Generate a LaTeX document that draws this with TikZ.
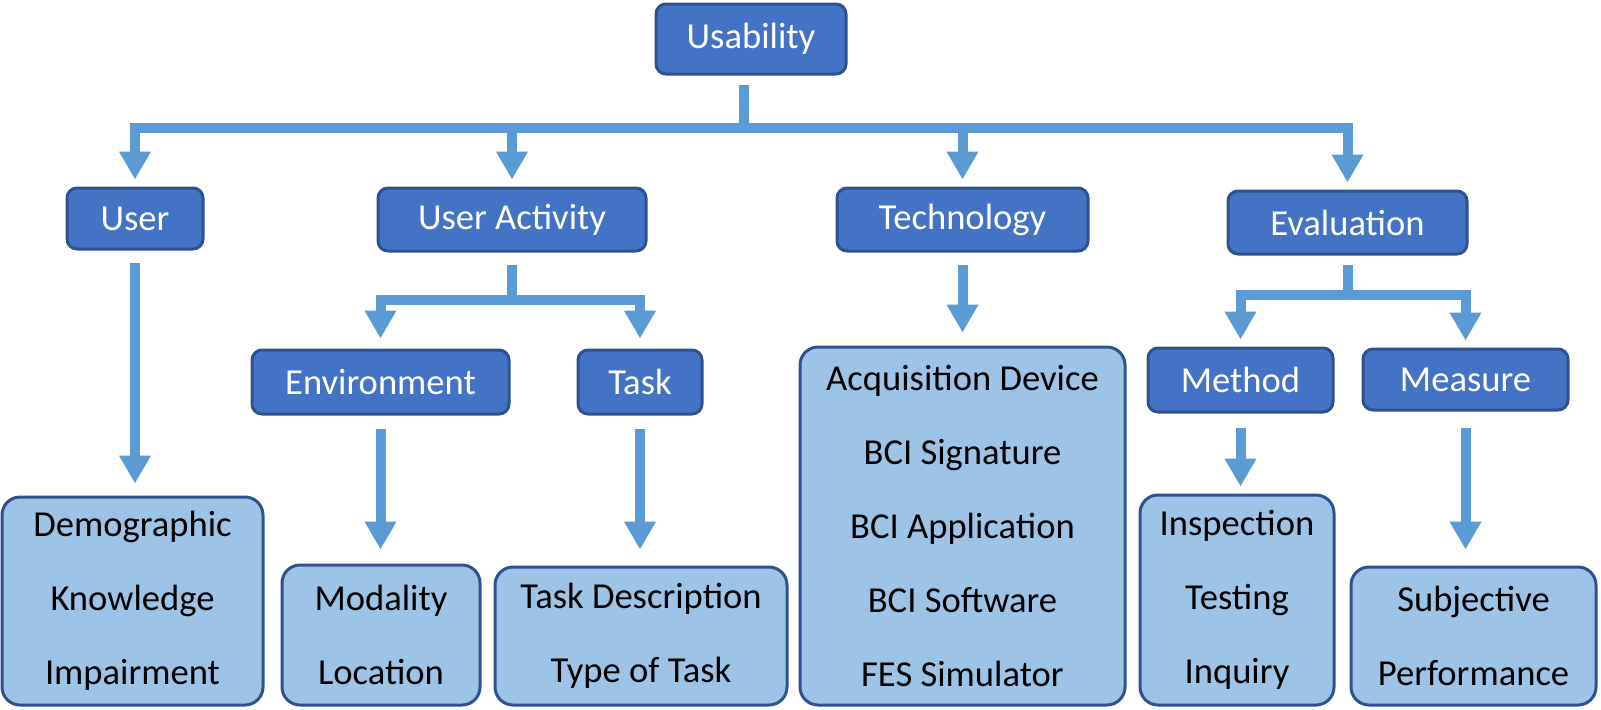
\documentclass[tikz,border=0pt]{standalone}
\usepackage{fontspec}
\setmainfont{Carlito}
\usetikzlibrary{arrows.meta,calc}
\definecolor{darkfill}{HTML}{4472C4}
\definecolor{darkline}{HTML}{2F528F}
\definecolor{lightfill}{HTML}{9DC3E6}
\definecolor{arrowblue}{HTML}{5B9BD5}
\begin{document}
\begin{tikzpicture}[x=0.5pt,y=-0.5pt,
  darkbox/.style={draw=darkline, fill=darkfill, line width=1.5pt, rounded corners=5pt, inner sep=0pt, text=white, font=\fontsize{18.3}{22}\selectfont},
  listbox/.style={draw=darkline, fill=lightfill, line width=1.5pt, rounded corners=9pt, inner sep=0pt, text=black, align=center, font=\fontsize{18.3}{37}\selectfont},
  conn/.style={draw=arrowblue, line width=5pt},
  arr/.style={conn, -{Triangle[width=15pt,length=14pt]}}]
\useasboundingbox (0,0) rectangle (1601,709);
% top-level boxes
\node[darkbox, minimum width=95pt, minimum height=35pt] (us) at (751,39) {Usability};
\node[darkbox, minimum width=68pt, minimum height=30.5pt] (user) at (135,218.5) {User};
\node[darkbox, minimum width=134pt, minimum height=31.5pt] (ua) at (512,219.5) {User Activity};
\node[darkbox, minimum width=125.5pt, minimum height=31.5pt] (tech) at (962.5,219.5) {Technology};
\node[darkbox, minimum width=119.5pt, minimum height=31.5pt] (eval) at (1347.5,222.5) {Evaluation};
\node[darkbox, minimum width=128.5pt, minimum height=32pt] (env) at (380.5,382) {Environment};
\node[darkbox, minimum width=62pt, minimum height=32pt] (task) at (640,382) {Task};
\node[darkbox, minimum width=92.5pt, minimum height=32pt] (meth) at (1240.5,380) {Method};
\node[darkbox, minimum width=102.5pt, minimum height=30.5pt] (meas) at (1465.5,379.5) {Measure};
% lists
\node[listbox, minimum width=130.5pt, minimum height=104pt] (userl) at (132.5,601) {Demographic\\Knowledge\\Impairment};
\node[listbox, minimum width=99pt, minimum height=70pt] (envl) at (381,635) {Modality\\Location};
\node[listbox, minimum width=146pt, minimum height=69pt] (taskl) at (641,636) {Task Description\\Type of Task};
\node[listbox, minimum width=162.5pt, minimum height=179pt] (techl) at (962.5,526) {Acquisition Device\\BCI Signature\\BCI Application\\BCI Software\\FES Simulator};
\node[listbox, minimum width=97pt, minimum height=105pt] (methl) at (1237,600) {Inspection\\Testing\\Inquiry};
\node[listbox, minimum width=122.5pt, minimum height=69pt] (measl) at (1473.5,636) {Subjective\\Performance};
% top tree
\coordinate (bar) at (744,128);
\draw[conn] ([xshift=-3.5pt,yshift=-4.5pt]us.south) -- (bar);
\draw[arr, shorten >=3.5pt] (bar) -| (user.north);
\draw[arr, shorten >=3.5pt] (bar) -| (ua.north);
\draw[arr, shorten >=3.5pt] (bar) -| (tech.north);
\draw[arr, shorten >=3.5pt] (bar) -| (eval.north);
% user activity tree
\coordinate (uabar) at ($(ua.south)+(0,47)$);
\draw[conn] ([yshift=-6pt]ua.south) -- (uabar);
\draw[arr, shorten >=5pt] (uabar) -| (env.north);
\draw[arr, shorten >=5pt] (uabar) -| (task.north);
% evaluation tree
\coordinate (evbar) at ($(eval.south)+(0,39)$);
\draw[conn] ([yshift=-4.5pt]eval.south) -- (evbar);
\draw[arr, shorten >=3.5pt] (evbar) -| (meth.north);
\draw[arr, shorten >=3.5pt] (evbar) -| (meas.north);
% down arrows to lists
\draw[arr, shorten <=6pt, shorten >=6pt] (user.south) -- (user.south |- userl.north);
\draw[arr, shorten <=6.5pt, shorten >=7pt] (env.south) -- (env.south |- envl.north);
\draw[arr, shorten <=6.5pt, shorten >=8pt] (task.south) -- (task.south |- taskl.north);
\draw[arr, shorten <=6pt, shorten >=6.5pt] (tech.south) -- (tech.south |- techl.north);
\draw[arr, shorten <=7pt, shorten >=3.5pt] (meth.south) -- (meth.south |- methl.north);
\draw[arr, shorten <=8pt, shorten >=8pt] (meas.south) -- (meas.south |- measl.north);
\end{tikzpicture}
\end{document}
